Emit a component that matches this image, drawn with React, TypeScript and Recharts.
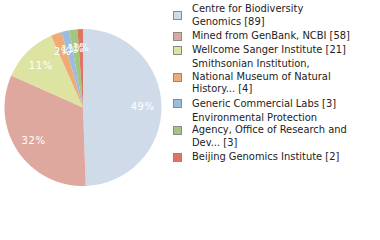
import { PieChart, Pie, Cell } from 'recharts';

// legend names, wrapped where the reference wraps them
const names = [
  'Centre for Biodiversity\nGenomics',
  'Mined from GenBank, NCBI',
  'Wellcome Sanger Institute',
  'Smithsonian Institution,\nNational Museum of Natural\nHistory...',
  'Generic Commercial Labs',
  'Environmental Protection\nAgency, Office of Research and\nDev...',
  'Beijing Genomics Institute',
];
const counts = [89, 58, 21, 4, 3, 3, 2];
const colors = ['#cfdbe8', '#dfa89f', '#dde3a1', '#f0aa74', '#9dbbdd', '#a3c67f', '#e07462'];

const data = names.map((name, i) => ({ name, value: counts[i] }));
const total = counts.reduce((a, b) => a + b, 0);

const RAD = Math.PI / 180;

function renderLabel(props: any) {
  const { cx, cy, midAngle, outerRadius, value } = props;
  const r = outerRadius * 0.76;
  const x = cx + r * Math.cos(-midAngle * RAD);
  const y = cy + r * Math.sin(-midAngle * RAD);
  return (
    <text
      x={x}
      y={y}
      fill="#ffffff"
      fontSize={10}
      fontFamily="DejaVu Sans"
      textAnchor="middle"
      dominantBaseline="central"
      style={{ letterSpacing: 0.6 }}
    >
      {Math.floor((value / total) * 100)}%
    </text>
  );
}

function LegendList() {
  return (
    <div
      style={{
        position: 'absolute',
        left: 173,
        top: 3,
        fontFamily: 'DejaVu Sans Condensed',
        fontSize: 11,
        color: '#222',
        lineHeight: '12.5px',
      }}
    >
      {data.map((d, i) => (
        <div key={d.name} style={{ display: 'flex', alignItems: 'center', marginBottom: 1.75 }}>
          <span
            style={{
              width: 7,
              height: 7,
              background: colors[i],
              border: '1px solid #8a8a8a',
              marginRight: 10,
              flexShrink: 0,
            }}
          />
          <span style={{ whiteSpace: 'pre' }}>
            {d.name} [{d.value}]
          </span>
        </div>
      ))}
    </div>
  );
}

export default function App() {
  return (
    <div style={{ position: 'absolute', left: 0, top: 0, width: 380, height: 240, background: '#fff' }}>
      <PieChart width={380} height={240} margin={{ top: 0, right: 0, bottom: 0, left: 0 }}>
        <Pie
          data={data}
          dataKey="value"
          cx={83}
          cy={107.5}
          outerRadius={78.5}
          startAngle={90}
          endAngle={-270}
          stroke="none"
          label={renderLabel}
          labelLine={false}
          isAnimationActive={false}
        >
          {data.map((d, i) => (
            <Cell key={d.name} fill={colors[i]} />
          ))}
        </Pie>
      </PieChart>
      <LegendList />
    </div>
  );
}
